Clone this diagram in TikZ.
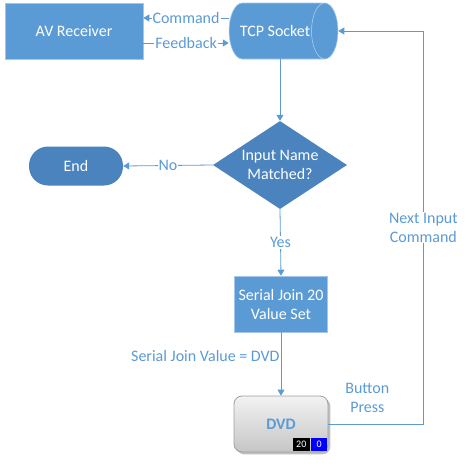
\documentclass[tikz,border=0pt]{standalone}
\usepackage{fontspec}
\setmainfont{Carlito}
\usetikzlibrary{shapes.geometric,arrows.meta,shadows}

\definecolor{boxblue}{RGB}{91,155,213}
\definecolor{deepblue}{RGB}{74,131,189}
\definecolor{rimblue}{RGB}{165,198,232}
\definecolor{linkblue}{RGB}{91,155,213}

\begin{document}
\begin{tikzpicture}[x=1pt,y=-1pt,font=\fontsize{16}{19}\selectfont,
  process/.style={rectangle,draw=rimblue,line width=0.6pt,fill=boxblue,text=white,align=center},
  decision/.style={diamond,fill=deepblue,text=white,align=center,aspect=1.5,inner sep=0pt},
  link/.style={draw=linkblue,line width=0.8pt,-{Triangle[length=6pt,width=7pt]}},
  tag/.style={fill=white,text=linkblue,inner sep=1pt,align=center},
  badge/.style={text=white,font=\fontsize{10}{10}\selectfont,inner sep=0pt,minimum height=13pt,anchor=south east}]
  \useasboundingbox (0,0) rectangle (468,475);

  % boxes
  \node[process,minimum width=138pt,minimum height=56pt] (receiver) at (74,31) {AV Receiver};
  \node[cylinder,draw=rimblue,line width=0.6pt,cylinder uses custom fill,
    cylinder body fill=boxblue,cylinder end fill=boxblue,aspect=2,inner sep=1pt,
    minimum width=56pt,minimum height=90pt,text=white] (socket) at (275,31) {TCP Socket};
  \node[decision,minimum width=134pt,minimum height=88pt] (match) at (280,165) {Input Name\\Matched?};
  \node[rectangle,rounded corners=19pt,fill=deepblue,text=white,
    minimum width=94pt,minimum height=39pt] (finish) at (76,166) {End};
  \node[process,minimum width=93pt,minimum height=56pt] (serial) at (281,304) {Serial Join 20\\Value Set};
  \node[rectangle,rounded corners=8pt,draw=gray!75,line width=0.8pt,top color=gray!10,
    bottom color=gray!45,drop shadow,minimum width=94pt,minimum height=56pt,
    text=boxblue,font=\fontsize{16}{19}\selectfont\bfseries] (dvd) at (281,424) {DVD};
  \node[badge,fill=blue,minimum width=16pt] (pressval) at ([xshift=-1pt,yshift=1pt]dvd.south east) {0};
  \node[badge,fill=black,minimum width=17pt] (joinval) at ([xshift=-1pt]pressval.south west) {20};

  % connectors
  \draw[link] ([yshift=13pt]socket.west) -- node[tag] {Command} ([yshift=13pt]receiver.east);
  \draw[link] ([yshift=-12pt]receiver.east) -- node[tag] {Feedback} ([yshift=-12pt]socket.west);
  \draw[link] (socket.south -| match.north) -- (match.north);
  \draw[link] (match.west) -- node[tag] {No} (finish.east);
  \draw[link] (match.south) -- node[tag] {Yes} (serial.north);
  \draw[link] (serial.south) -- node[tag,left,pos=0.38] {Serial Join Value = DVD} (dvd.north);
  \draw[link] (dvd.east) -- ++(95,0)
    node[pos=0.41,above=8pt,text=linkblue,align=center] {Button\\Press}
    |- node[tag,pos=0.25] {Next Input\\Command} (socket.east);
\end{tikzpicture}
\end{document}
